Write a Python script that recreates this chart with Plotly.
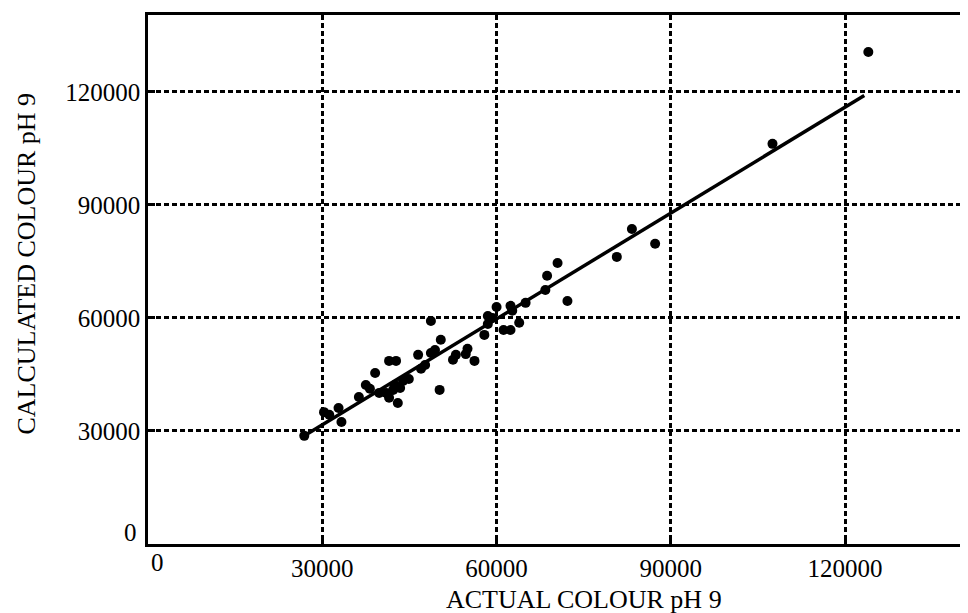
import plotly.graph_objects as go

# Data (ACTUAL vs CALCULATED colour, pH 9)
actual = [26900, 30300, 31200, 32800, 33300, 36300, 37500, 38200, 39100, 39800,
          41000, 41500, 42700, 41500, 43000, 42500, 43400, 42200, 43900, 44900,
          46500, 47000, 47700, 48700, 49400, 48700, 50400, 50200, 52500, 53000,
          54700, 55000, 56200, 57900, 58500, 58500, 59300, 60000, 61200, 62400,
          62400, 62700, 63900, 65000, 68400, 68700, 70500, 72200, 80700, 83300,
          87300, 107500, 124000]
calculated = [28700, 35000, 34300, 36100, 32400, 39000, 42200, 41200, 45400, 40100,
              40100, 48600, 48600, 38800, 37400, 42200, 41400, 40900, 43300, 43800,
              50200, 46500, 47500, 50700, 51500, 59200, 54200, 40900, 48900, 50200,
              50400, 51800, 48600, 55500, 58400, 60500, 60000, 62900, 56800, 56800,
              63200, 61900, 58700, 64000, 67400, 71200, 74600, 64500, 76200, 83600,
              79700, 106200, 130600]

# Regression line
fit_x = [26900, 123300]
fit_slope = 0.937
fit_intercept = 3500
fit_y = [fit_slope * v + fit_intercept for v in fit_x]

x_ticks = [30000, 60000, 90000, 120000]
y_ticks = [30000, 60000, 90000, 120000]
x_title = "ACTUAL COLOUR pH 9"
y_title = "CALCULATED COLOUR pH 9"

FONT = "Liberation Serif"
TICK_SIZE = 25
X_TITLE_SIZE = 26
Y_TITLE_SIZE = 26

fig = go.Figure()
fig.add_trace(go.Scatter(x=actual, y=calculated, mode="markers",
                         marker=dict(color="black", size=10, line=dict(width=0)),
                         showlegend=False, hoverinfo="skip"))
fig.add_trace(go.Scatter(x=fit_x, y=fit_y, mode="lines",
                         line=dict(color="black", width=3.5),
                         showlegend=False, hoverinfo="skip"))

axis_common = dict(
    showline=True, linecolor="black", linewidth=2.5, mirror=True,
    showgrid=True, gridcolor="black", gridwidth=2.5, griddash="5px,3px",
    ticks="inside", ticklen=7, tickwidth=2.5, tickcolor="black",
    zeroline=False,
    tickfont=dict(family=FONT, size=TICK_SIZE, color="black"),
)

fig.update_xaxes(range=[0, 141500], tickvals=x_ticks,
                 ticktext=[str(v) for v in x_ticks], **axis_common)
fig.update_yaxes(range=[0, 140400], tickvals=y_ticks,
                 ticktext=[str(v) for v in y_ticks], **axis_common)

annotations = [
    dict(text="0", xref="x", yref="paper", x=0, y=0, xanchor="left", yanchor="top",
         xshift=1, yshift=-3, showarrow=False,
         font=dict(family=FONT, size=TICK_SIZE, color="black")),
    dict(text="0", xref="paper", yref="y", x=0, y=0, xanchor="right", yanchor="middle",
         xshift=-9, yshift=12, showarrow=False,
         font=dict(family=FONT, size=TICK_SIZE, color="black")),
    dict(text=x_title, xref="paper", yref="paper", x=0.5, y=0, xanchor="center",
         yanchor="middle", xshift=25, yshift=-55, showarrow=False,
         font=dict(family=FONT, size=X_TITLE_SIZE, color="black")),
    dict(text=y_title, xref="paper", yref="paper", x=0, y=0.5, xanchor="center",
         yanchor="middle", xshift=-122, yshift=16, textangle=-90, showarrow=False,
         font=dict(family=FONT, size=Y_TITLE_SIZE, color="black")),
]

fig.update_layout(
    width=968, height=613,
    margin=dict(l=140, r=3, t=7, b=77),
    plot_bgcolor="white", paper_bgcolor="white",
    annotations=annotations,
)

fig.write_html("out.html")
